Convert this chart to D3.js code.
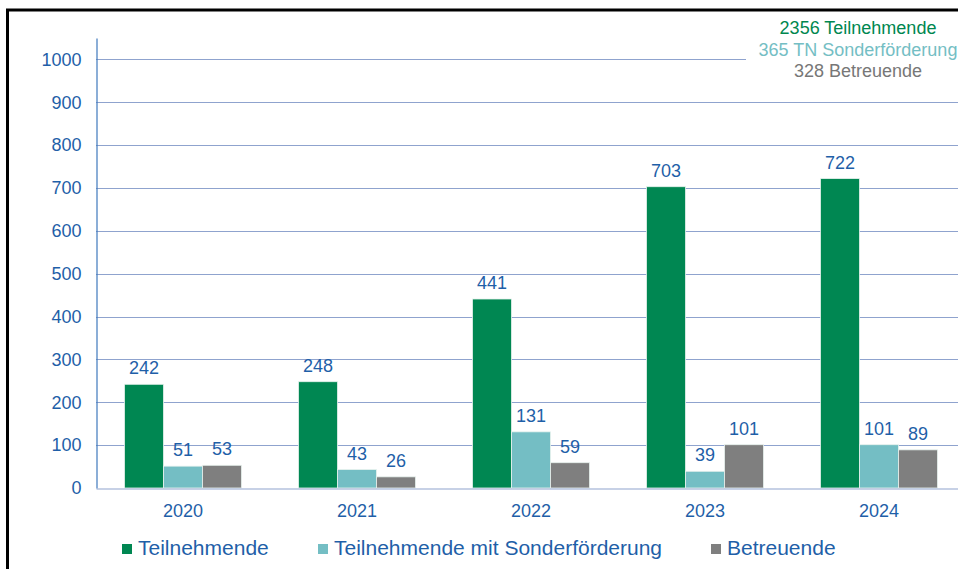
<!DOCTYPE html>
<html>
<head>
<meta charset="utf-8">
<script src="https://cdn.jsdelivr.net/npm/d3@7"></script>
<style>
  html, body { margin: 0; padding: 0; background: #fff; }
  svg { display: block; font-family: "Liberation Sans", Arial, sans-serif; }
</style>
</head>
<body>
<div id="chart"></div>
<script>
const years = ['2020', '2021', '2022', '2023', '2024'];
const seriesNames = ['Teilnehmende', 'Teilnehmende mit Sonderförderung', 'Betreuende'];
const teilnehmende = [242, 248, 441, 703, 722];
const sonderfoerderung = [51, 43, 131, 39, 101];
const betreuende = [53, 26, 59, 101, 89];
const yTicks = [0, 100, 200, 300, 400, 500, 600, 700, 800, 900, 1000];
const totals = ['2356 Teilnehmende', '365 TN Sonderförderung', '328 Betreuende'];

const colors = ['#008752', '#74BEC4', '#7F7F7F'];
const textBlue = '#1F5FA8';

const width = 958, height = 569;
const margin = { left: 96, right: -8, top: 38, bottom: 81 };

const svg = d3.select('#chart').append('svg')
    .attr('width', width)
    .attr('height', height);

// black frame (cut off at right/bottom)
svg.append('path')
    .attr('d', `M7.5,${height + 5} V10 H${width + 5}`)
    .attr('fill', 'none')
    .attr('stroke', '#000')
    .attr('stroke-width', 3);

const x0 = d3.scaleBand()
    .domain(years)
    .range([margin.left, width - margin.right])
    .paddingInner(0)
    .paddingOuter(0);

const x1 = d3.scaleBand()
    .domain(seriesNames)
    .range([0, x0.bandwidth()])
    .paddingInner(0)
    .paddingOuter(0.73);

const y = d3.scaleLinear()
    .domain([0, 1050])
    .range([height - margin.bottom, margin.top]);

// gridlines
svg.append('g')
    .selectAll('line')
    .data(yTicks.filter(d => d > 0))
    .enter()
    .append('line')
    .attr('x1', margin.left)
    .attr('x2', width)
    .attr('y1', d => Math.round(y(d)) + 0.5)
    .attr('y2', d => Math.round(y(d)) + 0.5)
    .attr('stroke', '#8FA3CE')
    .attr('stroke-width', 1.2);

// bars
const seriesData = [teilnehmende, sonderfoerderung, betreuende];
const groups = svg.append('g')
    .selectAll('g')
    .data(seriesNames)
    .enter()
    .append('g')
    .attr('fill', (d, i) => colors[i]);

groups.each(function(name, si) {
    const g = d3.select(this);
    const rows = seriesData[si].map((v, i) => ({ year: years[i], value: v }));
    g.selectAll('rect')
        .data(rows)
        .enter()
        .append('rect')
        .attr('x', d => x0(d.year) + x1(name))
        .attr('y', d => y(d.value))
        .attr('width', x1.bandwidth())
        .attr('height', d => y(0) - y(d.value))
        .attr('stroke', '#e8f2ee')
        .attr('stroke-width', 0.8);

    g.selectAll('text')
        .data(rows)
        .enter()
        .append('text')
        .attr('x', d => x0(d.year) + x1(name) + x1.bandwidth() / 2)
        .attr('y', d => y(d.value) - 10)
        .attr('text-anchor', 'middle')
        .attr('fill', textBlue)
        .style('font-size', '18px')
        .text(d => d.value);
});

// y axis
const yAxis = d3.axisLeft(y).tickValues(yTicks).tickFormat(d3.format('d')).tickSize(0).tickPadding(15);
const yg = svg.append('g')
    .attr('transform', `translate(${margin.left + 0.5},0)`)
    .call(yAxis);
yg.select('.domain').attr('stroke', '#3F78BC').attr('stroke-width', 1.2);
yg.selectAll('text').attr('fill', textBlue).style('font-size', '18px');

// x axis
const xAxis = d3.axisBottom(x0).tickSize(0).tickPadding(16);
const xg = svg.append('g')
    .attr('transform', `translate(0,${Math.round(y(0)) + 0.5})`)
    .call(xAxis);
xg.select('.domain').attr('stroke', '#8FA3CE').attr('stroke-width', 1.2);
xg.selectAll('text').attr('fill', textBlue).style('font-size', '18px');

// totals box top right
const box = svg.append('g').attr('transform', 'translate(858,0)');
box.append('rect')
    .attr('x', -112)
    .attr('y', 14)
    .attr('width', 224)
    .attr('height', 70)
    .attr('fill', '#fff');
box.selectAll('text')
    .data(totals)
    .enter()
    .append('text')
    .attr('x', 0)
    .attr('y', (d, i) => 34 + i * 21.5)
    .attr('text-anchor', 'middle')
    .attr('fill', (d, i) => i === 0 ? '#00874F' : (i === 1 ? '#74BEC4' : '#777'))
    .style('font-size', '18px')
    .text(d => d);

// legend
const legendX = [122, 318, 711];
const legend = svg.append('g').attr('id', 'legend');
legend.selectAll('g')
    .data(seriesNames)
    .enter()
    .append('g')
    .attr('transform', (d, i) => `translate(${legendX[i]}, 544)`)
    .each(function(d, i) {
        d3.select(this).append('rect')
            .attr('width', 10)
            .attr('height', 10)
            .attr('fill', colors[i]);
        d3.select(this).append('text')
            .attr('x', 16)
            .attr('y', 11)
            .attr('fill', textBlue)
            .style('font-size', '21px')
            .text(d);
    });
</script>
</body>
</html>
